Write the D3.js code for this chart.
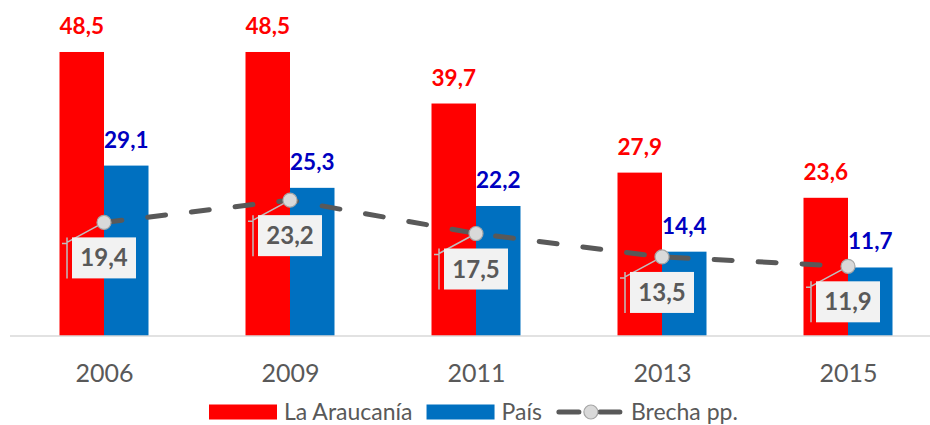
<!DOCTYPE html>
<html>
<head>
<meta charset="utf-8">
<script src="https://cdn.jsdelivr.net/npm/d3@7"></script>
<style>
  body { margin: 0; background: #fff; }
  svg { display: block; font-family: Lato, "Open Sans", sans-serif; }
</style>
</head>
<body>
<div id="chart"></div>
<script>
// data
const years = ['2006', '2009', '2011', '2013', '2015'];
const araucania = [48.5, 48.5, 39.7, 27.9, 23.6];
const pais = [29.1, 25.3, 22.2, 14.4, 11.7];
const brecha = [19.4, 23.2, 17.5, 13.5, 11.9];
const seriesNames = ['La Araucanía', 'País', 'Brecha pp.'];

const fmt = v => d3.format('.1f')(v).replace('.', ',');

const width = 930, height = 425;
const svg = d3.select('#chart').append('svg')
    .attr('width', width)
    .attr('height', height);

const x = d3.scalePoint()
    .domain(years)
    .range([11, 941])
    .padding(0.5);

const inner = d3.scaleBand()
    .domain(['reg', 'pais'])
    .range([-44.5, 44.5]);

const y = d3.scaleLinear()
    .domain([0, 50])
    .range([336, 43.2]);

const data = years.map((yr, i) => ({ yr, reg: araucania[i], pais: pais[i], gap: brecha[i] }));
const colors = { reg: '#ff0000', pais: '#0070c0' };
const labelColors = { reg: '#ff0000', pais: '#0000c0' };

// bars
const groups = svg.append('g').selectAll('g')
    .data(data)
    .join('g')
    .attr('transform', d => `translate(${x(d.yr)},0)`);

['reg', 'pais'].forEach(k => {
    groups.append('rect')
        .attr('x', inner(k))
        .attr('width', inner.bandwidth())
        .attr('y', d => y(d[k]))
        .attr('height', d => y(0) - y(d[k]))
        .attr('fill', colors[k]);

    groups.append('text')
        .attr('x', inner(k) + inner.bandwidth() / 2)
        .attr('y', d => y(d[k]) - 18)
        .attr('text-anchor', 'middle')
        .attr('font-weight', 'bold')
        .attr('font-size', 22.5)
        .attr('fill', labelColors[k])
        .text(d => fmt(d[k]));
});

// x axis
const xAxis = svg.append('g')
    .attr('transform', `translate(0,${y(0)})`)
    .call(d3.axisBottom(x).tickSize(0).tickPadding(28));
xAxis.select('.domain').attr('stroke', '#d9d9d9').attr('stroke-width', 1.5)
    .attr('d', `M10,0H930`);
xAxis.selectAll('text')
    .attr('font-family', 'Lato, sans-serif')
    .attr('font-size', 25)
    .attr('fill', '#595959');

// gap line
const line = d3.line()
    .x(d => x(d.yr))
    .y(d => y(d.gap));

svg.append('path')
    .datum(data)
    .attr('fill', 'none')
    .attr('stroke', '#595959')
    .attr('stroke-width', 5)
    .attr('stroke-linecap', 'round')
    .attr('stroke-dasharray', '18,26')
    .attr('d', line);

// labels with leader lines
const boxW = 64, boxH = 41;
const lbl = svg.append('g').selectAll('g')
    .data(data)
    .join('g');

lbl.each(function(d) {
    const g = d3.select(this);
    const px = x(d.yr), py = y(d.gap);
    const bx = px - boxW / 2, by = py + 15;
    g.append('path')
        .attr('d', `M${px},${py}L${bx - 5},${by + 5}M${bx - 10},${by + 6}H${bx - 5}M${bx - 5},${by}V${by + boxH}`)
        .attr('fill', 'none')
        .attr('stroke', '#bfbfbf')
        .attr('stroke-width', 1.5);
    g.append('rect')
        .attr('x', bx).attr('y', by)
        .attr('width', boxW).attr('height', boxH)
        .attr('fill', '#f2f2f2');
    g.append('text')
        .attr('x', px)
        .attr('y', by + boxH / 2 + 8.5)
        .attr('text-anchor', 'middle')
        .attr('font-weight', 'bold')
        .attr('font-size', 24)
        .attr('fill', '#595959')
        .text(fmt(d.gap));
});

svg.append('g').selectAll('circle')
    .data(data)
    .join('circle')
    .attr('cx', d => x(d.yr))
    .attr('cy', d => y(d.gap))
    .attr('r', 7)
    .attr('fill', '#d9d9d9')
    .attr('stroke', '#a6a6a6')
    .attr('stroke-width', 1.2);

// legend
const legend = svg.append('g').attr('transform', 'translate(0,412)');
let lx = 209;
seriesNames.forEach((name, i) => {
    const item = legend.append('g').attr('transform', `translate(${lx},0)`);
    if (i < 2) {
        item.append('rect')
            .attr('x', 0).attr('y', -7.5)
            .attr('width', 68).attr('height', 15)
            .attr('fill', i === 0 ? colors.reg : colors.pais);
    } else {
        item.append('path')
            .attr('d', 'M3,0H64')
            .attr('stroke', '#595959')
            .attr('stroke-width', 5)
            .attr('stroke-linecap', 'round')
            .attr('stroke-dasharray', '20,21');
        item.append('circle')
            .attr('cx', 35).attr('cy', 0).attr('r', 7)
            .attr('fill', '#d9d9d9')
            .attr('stroke', '#a6a6a6')
            .attr('stroke-width', 1.2);
    }
    const t = item.append('text')
        .attr('x', 75)
        .attr('y', 7.5)
        .attr('font-size', 23)
        .attr('fill', '#595959')
        .text(name);
    lx += 75 + t.node().getComputedTextLength() + 14;
});
</script>
</body>
</html>
